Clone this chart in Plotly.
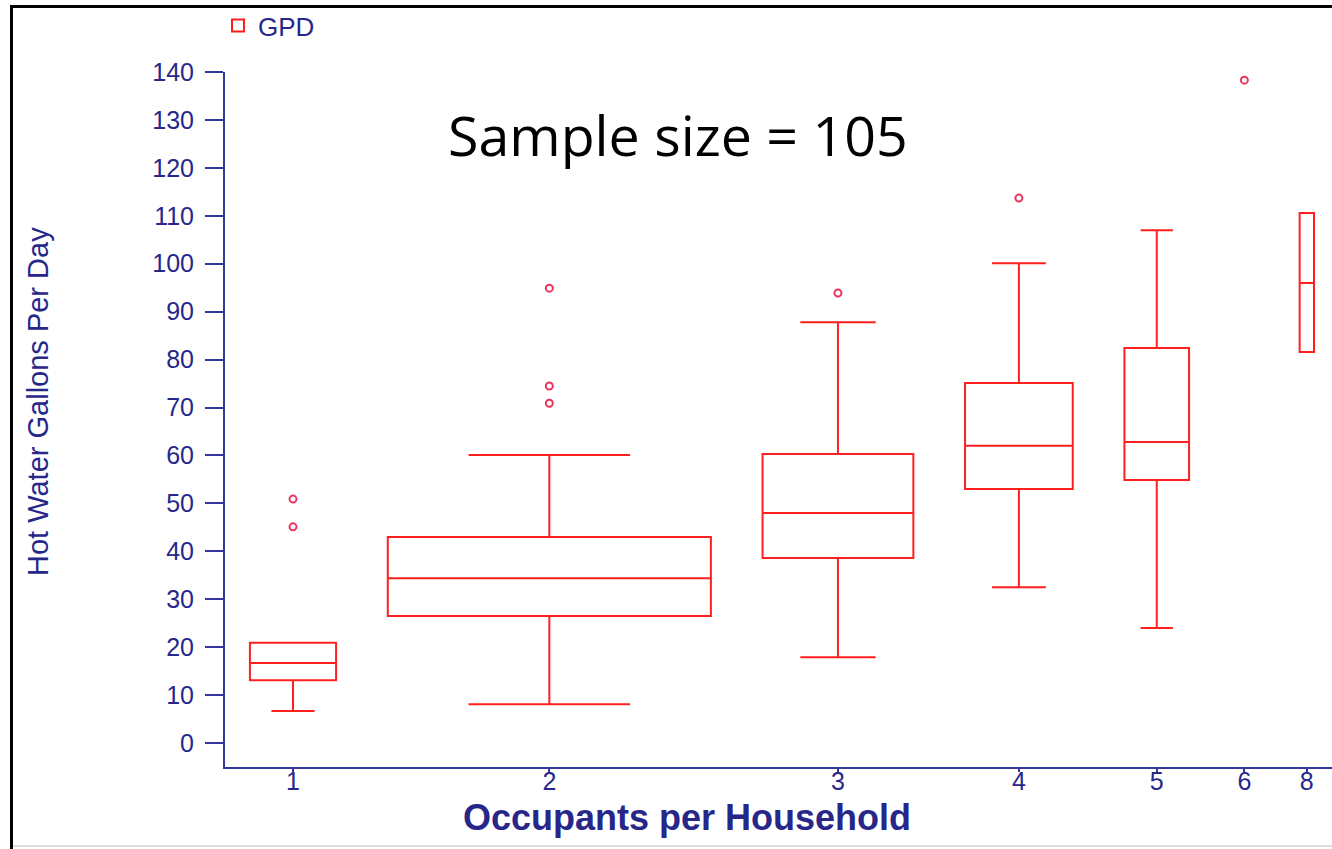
import plotly.graph_objects as go

# ---------------- data ----------------
occupants = ["1", "2", "3", "4", "5", "6", "8"]
counts = [12, 45, 21, 15, 9, 1, 2]          # households per group (sum = 105)
q1 = [13.1, 26.5, 38.6, 53.0, 54.9, None, 81.6]
median = [16.7, 34.4, 48.0, 62.0, 62.8, None, 96.0]
q3 = [20.9, 43.0, 60.3, 75.1, 82.4, None, 110.6]
lower_whisker = [6.7, 8.1, 17.9, 32.5, 24.0, None, 81.6]
upper_whisker = [20.9, 60.1, 87.8, 100.1, 107.0, None, 110.6]
outlier_groups = ["1", "1", "2", "2", "2", "3", "4", "6"]
outlier_values = [45.1, 50.9, 70.9, 74.5, 94.9, 93.9, 113.7, 138.3]
y_ticks = list(range(0, 141, 10))

# ---------------- styles ----------------
BOX_RED = "#ff1f1f"
OUT_RED = "#e8365e"
NAVY_TXT = "#27278a"
NAVY_LINE = "#3636a0"
FONT = "Liberation Sans, Arial, sans-serif"
GAP = 7.2  # gap between boxes, in count units

# variable-width layout: box width proportional to count, constant gap
pos = [0.0]
for i in range(1, len(counts)):
    pos.append(pos[-1] + (counts[i - 1] + counts[i]) / 2 + GAP)
pos_of = dict(zip(occupants, pos))

fig = go.Figure()
first = True
for i, occ in enumerate(occupants):
    if q1[i] is None:
        continue
    fig.add_trace(go.Box(
        x=[pos[i]], q1=[q1[i]], median=[median[i]], q3=[q3[i]],
        lowerfence=[lower_whisker[i]], upperfence=[upper_whisker[i]],
        width=counts[i], whiskerwidth=0.5, boxpoints=False,
        fillcolor="rgba(0,0,0,0)", line=dict(color=BOX_RED, width=2),
        name="GPD", legendgroup="gpd", showlegend=first,
    ))
    first = False

fig.add_trace(go.Scatter(
    x=[pos_of[g] for g in outlier_groups], y=outlier_values, mode="markers",
    marker=dict(symbol="circle-open", size=7, color=OUT_RED, line=dict(width=2, color=OUT_RED)),
    showlegend=False, legendgroup="gpd",
))

W, H = 1332, 849
L, R, T, B = 225, 0, 72, 82
pw, ph = W - L - R, H - T - B
kx = 7.18
x0 = -(293 - 225) / kx


def px(xp):
    return (xp - L) / pw


def py(yp):
    return (H - B - yp) / ph


fig.update_layout(
    width=W, height=H, margin=dict(l=L, r=R, t=T, b=B, autoexpand=False),
    paper_bgcolor="white", plot_bgcolor="white", boxmode="overlay",
    font=dict(family=FONT, color=NAVY_TXT),
    showlegend=True,
    legend=dict(x=px(218), y=py(2), xanchor="left", yanchor="top",
                font=dict(size=26, color=NAVY_TXT, family=FONT),
                bgcolor="rgba(0,0,0,0)", itemwidth=30),
    xaxis=dict(range=[x0, x0 + pw / kx], tickmode="array", tickvals=pos, ticktext=occupants,
               showgrid=False, zeroline=False, showline=True, linecolor=NAVY_LINE, linewidth=2,
               ticks="outside", ticklen=3, tickwidth=2, tickcolor=NAVY_LINE,
               ticklabelstandoff=-12,
               tickfont=dict(size=25, color=NAVY_TXT, family=FONT)),
    yaxis=dict(range=[-5, 140], tickmode="array", tickvals=y_ticks,
               showgrid=False, zeroline=False, showline=True, linecolor=NAVY_LINE, linewidth=2,
               ticks="outside", ticklen=18, tickwidth=2, tickcolor=NAVY_LINE,
               ticklabelstandoff=6,
               tickfont=dict(size=25, color=NAVY_TXT, family=FONT)),
    annotations=[
        dict(text="Sample size = 105", x=px(678), y=py(134), xref="paper", yref="paper",
             xanchor="center", yanchor="middle", showarrow=False,
             font=dict(size=55.5, color="black", family="Open Sans, sans-serif")),
        dict(text="<b>Occupants per Household</b>", x=px(687), y=py(817), xref="paper", yref="paper",
             xanchor="center", yanchor="middle", showarrow=False,
             font=dict(size=36, color=NAVY_TXT, family=FONT)),
        dict(text="Hot Water Gallons Per Day", x=px(38), y=py(402), xref="paper", yref="paper",
             xanchor="center", yanchor="middle", showarrow=False, textangle=-90,
             font=dict(size=29, color=NAVY_TXT, family=FONT)),
    ],
    shapes=[
        dict(type="line", xref="paper", yref="paper", x0=px(11.5), x1=px(11.5), y0=py(5), y1=py(H),
             line=dict(color="black", width=3)),
        dict(type="line", xref="paper", yref="paper", x0=px(10), x1=px(W), y0=py(6.5), y1=py(6.5),
             line=dict(color="black", width=3)),
        dict(type="line", xref="paper", yref="paper", x0=px(13), x1=px(W), y0=py(846), y1=py(846),
             line=dict(color="#dddddd", width=2)),
    ],
)

fig.write_html("out.html", config={"displayModeBar": False},
               post_script="document.body.style.margin='0';document.body.style.overflow='hidden';")
